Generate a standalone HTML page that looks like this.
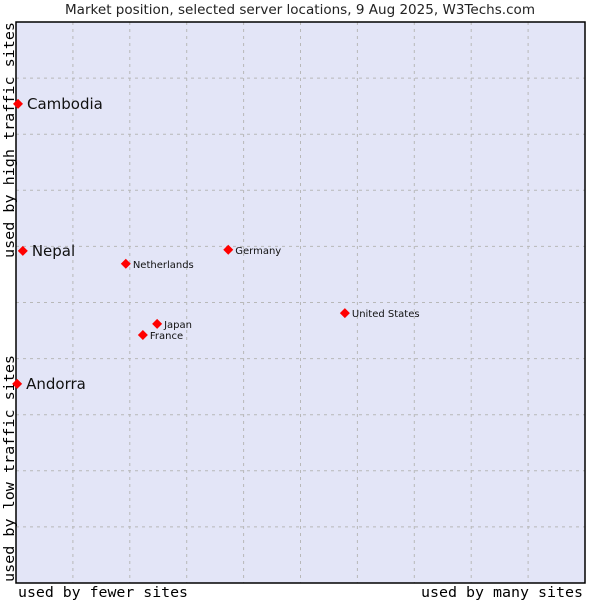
<!DOCTYPE html>
<html><head><meta charset="utf-8"><style>
body{margin:0;background:#fff;}
svg{display:block;font-family:"DejaVu Sans",sans-serif;}
</style></head><body>
<svg id="c" width="600" height="600">
<text x="65" y="14" textLength="470" lengthAdjust="spacingAndGlyphs" font-size="13" fill="#222">Market position, selected server locations, 9 Aug 2025, W3Techs.com</text>
<rect x="16" y="22" width="569" height="561" fill="#e3e5f7"/>
<g id="grid"></g>
<rect x="16" y="22" width="569" height="561" fill="none" stroke="#000" stroke-width="1.5"/>
<text x="18" y="597" textLength="170" lengthAdjust="spacingAndGlyphs" font-family="'DejaVu Sans Mono','Liberation Mono',monospace" font-size="14" fill="#000">used by fewer sites</text>
<text x="421" y="597" textLength="162" lengthAdjust="spacingAndGlyphs" font-family="'DejaVu Sans Mono','Liberation Mono',monospace" font-size="14" fill="#000">used by many sites</text>
<text transform="translate(14,582) rotate(-90)" textLength="227" lengthAdjust="spacingAndGlyphs" font-family="'DejaVu Sans Mono','Liberation Mono',monospace" font-size="14" fill="#000">used by low traffic sites</text>
<text transform="translate(14,258) rotate(-90)" textLength="236" lengthAdjust="spacingAndGlyphs" font-family="'DejaVu Sans Mono','Liberation Mono',monospace" font-size="14" fill="#000">used by high traffic sites</text>
<g id="pts"></g>
</svg>
<script>
const names=["Cambodia","Nepal","Andorra","Netherlands","Germany","United States","Japan","France"];
const xs=[0.35,1.2,0.2,19.3,37.3,57.8,24.8,22.3];
const ys=[85.4,59.2,35.5,56.9,59.4,48.1,46.2,44.2];
const big=[true,true,true,false,false,false,false,false];
const L=16,T=22,W=569,H=561;
const sx=v=>L+v/100*W, sy=v=>T+H-v/100*H;
const ns="http://www.w3.org/2000/svg";
const g=document.getElementById('grid'), p=document.getElementById('pts');
for(let i=1;i<10;i++){
 const x=L+i*W/10,y=T+i*H/10;
 let a=document.createElementNS(ns,'line');
 a.setAttribute('x1',x);a.setAttribute('x2',x);a.setAttribute('y1',T);a.setAttribute('y2',T+H);
 a.setAttribute('stroke','#b8b8b8');a.setAttribute('stroke-dasharray','3,4');
 
 
 g.appendChild(a);
 let b=document.createElementNS(ns,'line');
 b.setAttribute('y1',y);b.setAttribute('y2',y);b.setAttribute('x1',L);b.setAttribute('x2',L+W);
 b.setAttribute('stroke','#b8b8b8');b.setAttribute('stroke-dasharray','3,4');
 
 
 g.appendChild(b);
}
names.forEach((n,i)=>{
 const x=sx(xs[i]),y=sy(ys[i]);
 const d=document.createElementNS(ns,'polygon');
 const r=5;
 d.setAttribute('points',`${x},${y-r} ${x+r},${y} ${x},${y+r} ${x-r},${y}`);
 d.setAttribute('fill','#f00');
 
 
 p.appendChild(d);
 const t=document.createElementNS(ns,'text');
 t.setAttribute('x',x+(big[i]?9:7));t.setAttribute('y',y+(big[i]?5:4));
 t.setAttribute('font-size',big[i]?'15':'10');t.setAttribute('fill','#111');
 t.textContent=n;
 
 
 p.appendChild(t);
});
</script>
</body></html>
